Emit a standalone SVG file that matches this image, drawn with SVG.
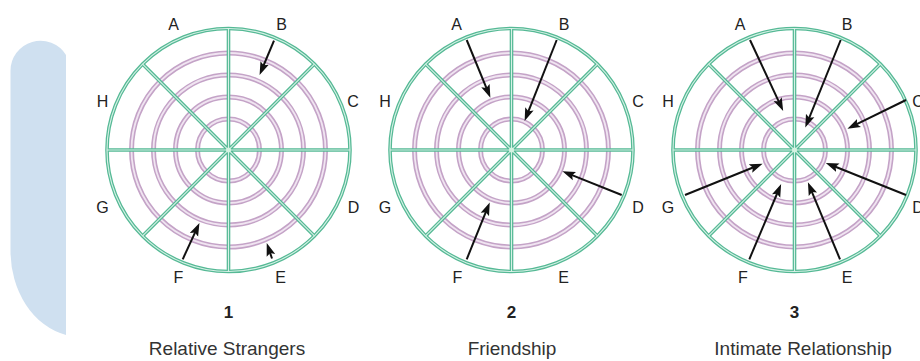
<svg xmlns="http://www.w3.org/2000/svg" width="920" height="361" viewBox="0 0 920 361">
<style>
.gO{fill:none;stroke:#55b995;stroke-width:3.6}
.gI{fill:none;stroke:#d6f1e6;stroke-width:1.1}
.pO{fill:none;stroke:#c4a3c7;stroke-width:5}
.pI{fill:none;stroke:#f0e4f1;stroke-width:1.8}
.lbl{font-family:"Liberation Sans",Arial,sans-serif;font-size:16px;fill:#222;text-anchor:middle}
.num{font-family:"Liberation Sans",Arial,sans-serif;font-size:17px;font-weight:bold;fill:#222;text-anchor:middle}
.cap{font-family:"Liberation Sans",Arial,sans-serif;font-size:19px;fill:#333;text-anchor:middle}
.arr{fill:none;stroke:#111;stroke-width:2;marker-end:url(#ah)}
</style>
<defs>
<marker id="ah" markerUnits="userSpaceOnUse" markerWidth="13" markerHeight="10" refX="6" refY="5" orient="auto">
<path d="M0,0.5 L13,5 L0,9.5 L2.5,5 z" fill="#111"/>
</marker>
<g id="rings">
<circle r="97"/><circle r="75"/><circle r="53"/><circle r="31"/>
</g>
<g id="spokes">
<circle r="121.5"/>
<path d="M-121.5,0 H121.5 M0,-121.5 V121.5 M-85.9,-85.9 L85.9,85.9 M-85.9,85.9 L85.9,-85.9"/>
</g>
<g id="wheel">
<use href="#rings" class="pO"/>
<use href="#rings" class="pI"/>
<use href="#spokes" class="gO"/>
<use href="#spokes" class="gI"/>
<circle r="2.5" fill="#d6f3e2"/>
</g>
</defs>
<rect width="920" height="361" fill="#fff"/>
<g id="sidebar">
<path d="M10.5,71 A30,30 0 0 1 66,55 L66,335 A70,86 0 0 1 10.5,250 Z" fill="#cfe0f0"/>
</g>
<g id="wheel1">
<use href="#wheel" x="228.5" y="150"/>
<text class="lbl" x="173.5" y="30">A</text>
<text class="lbl" x="281.5" y="30">B</text>
<text class="lbl" x="353" y="106.5">C</text>
<text class="lbl" x="353.5" y="213">D</text>
<text class="lbl" x="280.5" y="283">E</text>
<text class="lbl" x="178.5" y="283">F</text>
<text class="lbl" x="102.5" y="213">G</text>
<text class="lbl" x="102.5" y="106.5">H</text>
<text class="num" x="228.5" y="318">1</text>
<text class="cap" x="227" y="355">Relative Strangers</text>
</g>
<g id="wheel2">
<use href="#wheel" x="511.5" y="150"/>
<text class="lbl" x="456.5" y="30">A</text>
<text class="lbl" x="564" y="30">B</text>
<text class="lbl" x="638" y="106.5">C</text>
<text class="lbl" x="638" y="213">D</text>
<text class="lbl" x="563.5" y="283">E</text>
<text class="lbl" x="457.5" y="283">F</text>
<text class="lbl" x="385" y="213">G</text>
<text class="lbl" x="385" y="106.5">H</text>
<text class="num" x="511.5" y="318">2</text>
<text class="cap" x="512" y="355">Friendship</text>
</g>
<g id="wheel3">
<use href="#wheel" x="794.5" y="150"/>
<text class="lbl" x="740" y="30">A</text>
<text class="lbl" x="847" y="30">B</text>
<text class="lbl" x="918" y="106.5">C</text>
<text class="lbl" x="918" y="213">D</text>
<text class="lbl" x="847" y="283">E</text>
<text class="lbl" x="743" y="283">F</text>
<text class="lbl" x="668" y="213">G</text>
<text class="lbl" x="668" y="106.5">H</text>
<text class="num" x="794.5" y="318">3</text>
<text class="cap" x="803" y="355">Intimate Relationship</text>
</g>
<g id="connectors">
<path class="arr" d="M274,40.7 L262.3,68.5"/>
<path class="arr" d="M182.7,259.3 L196.5,229.4"/>
<path class="arr" d="M272,258.5 L269,249.7"/>
<path class="arr" d="M466.7,40 L487.7,91.2"/>
<path class="arr" d="M556.7,40 L527.2,114.4"/>
<path class="arr" d="M621.7,195 L568.9,173.9"/>
<path class="arr" d="M466.7,259.3 L487.1,208.9"/>
<path class="arr" d="M750,40 L780.2,104.6"/>
<path class="arr" d="M840.7,40 L807.9,121.1"/>
<path class="arr" d="M906,100 L853.7,125.7"/>
<path class="arr" d="M906,195 L832.3,165.5"/>
<path class="arr" d="M840,259.3 L810.6,188.8"/>
<path class="arr" d="M749.3,259.3 L778.4,190.5"/>
<path class="arr" d="M685,195 L756.1,166.3"/>
</g>
</svg>
